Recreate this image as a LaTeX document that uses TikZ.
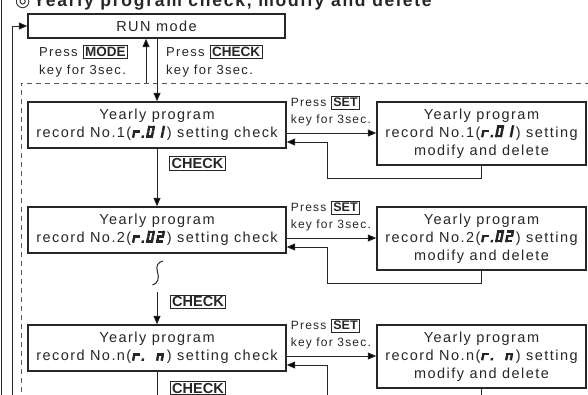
\documentclass[tikz,border=0pt]{standalone}
\usepackage{fontspec}
\usetikzlibrary{arrows.meta,calc}
\newfontfamily\lsf{Liberation Sans}[LetterSpace=10]
\newfontfamily\keyf{Liberation Sans}
\newfontfamily\djv{DejaVu Sans}
\definecolor{ink}{HTML}{262626}
\definecolor{dashc}{HTML}{555555}
% seven-segment pieces (x offset as argument)
\newcommand\sgA[1]{\draw (#1,10.8)--++(7,0);}
\newcommand\sgD[1]{\draw (#1,1.2)--++(7,0);}
\newcommand\sgG[1]{\draw (#1,6.2)--++(7,0);}
\newcommand\sgF[1]{\draw (#1+1.2,12)--++(0,-5.8);}
\newcommand\sgE[1]{\draw (#1+1.2,6.2)--++(0,-6.2);}
\newcommand\sgB[1]{\draw (#1+5.8,12)--++(0,-5.8);}
\newcommand\sgC[1]{\draw (#1+5.8,6.2)--++(0,-6.2);}
\newcommand\sgP[1]{\fill (#1,0) rectangle ++(2.4,2.4);}
\newcommand\segpic[2]{\tikz[baseline=0pt,x=1pt,y=1pt]{\useasboundingbox (-0.5,0) rectangle (#1,12);\begin{scope}[xslant=0.2,line width=2.4pt,ink]#2\end{scope}}}
\newcommand\rOne{\segpic{35}{\sgE{0}\sgG{0}\sgP{9.5}\sgA{14}\sgB{14}\sgC{14}\sgD{14}\sgE{14}\sgF{14}\sgB{24}\sgC{24}}}
\newcommand\rTwo{\segpic{35}{\sgE{0}\sgG{0}\sgP{9.5}\sgA{14}\sgB{14}\sgC{14}\sgD{14}\sgE{14}\sgF{14}\sgA{24}\sgB{24}\sgG{24}\sgE{24}\sgD{24}}}
\newcommand\rEn{\segpic{35}{\sgE{0}\sgG{0}\sgP{9.5}\sgE{24}\sgG{24}\sgC{24}}}
\newcommand\kbox[2]{{\keyf\bfseries\fontsize{#1}{#1}\selectfont\setlength\fboxsep{1.6pt}\setlength\fboxrule{0.9pt}\fbox{#2}}}
\newcommand\bodyf{\lsf\fontsize{14.5}{18}\selectfont}
\newcommand\pressf{\lsf\fontsize{13}{18}\selectfont}
\newcommand\setf{\lsf\fontsize{12}{16.5}\selectfont}
\begin{document}
\begin{tikzpicture}[x=1pt,y=-1pt,line join=miter,
  arr/.style={draw=ink,line width=1pt,-{Triangle[length=8.5pt,width=7pt]}},
  ln/.style={draw=ink,line width=1pt},
  lbox/.style={draw=ink,line width=1.3pt,minimum width=258pt,minimum height=46pt,inner sep=0pt,align=center,font=\bodyf,text=ink},
  rbox/.style={lbox,minimum width=209pt,minimum height=63pt},
  keyn/.style={draw=ink,line width=0.9pt,inner sep=1.8pt,font=\keyf\bfseries\fontsize{14.5}{14.5}\selectfont,text=ink},
  lbl/.style={inner sep=0pt,align=left,anchor=north west,text=ink}]
\useasboundingbox (0,0) rectangle (588,394);
\clip (0,0) rectangle (588,394);
% title
\node[anchor=base west,inner sep=0pt,text=ink,font=\lsf\bfseries\fontsize{17.5}{20}\selectfont] (title) at (15,6.5) {{\djv ◎}\hspace{3pt}Yearly program check, modify and delete};
% frames
\draw[ink,line width=0.8pt] (1,-5) -- (1,400);
\draw[dashc,line width=1pt,dash pattern=on 5pt off 4pt] (21,410) -- (21,83) -- (600,83);
\coordinate (bot) at (0,410);
\coordinate (lp) at (12,410);
\coordinate (dtop) at (146,83);
% nodes
\node[lbox,minimum width=257pt,minimum height=24pt] (run) at (156.5,26) {RUN mode};
\node[lbox] (b1) at (157,125) {Yearly program\\record No.1(\rOne) setting check};
\node[lbox] (b2) at (157,230) {Yearly program\\record No.2(\rTwo) setting check};
\node[lbox] (bn) at (157,348) {Yearly program\\record No.n(\rEn) setting check};
\node[rbox] (r1) at (481.5,133.5) {Yearly program\\record No.1(\rOne) setting\\modify and delete};
\node[rbox] (r2) at (481.5,238.5) {Yearly program\\record No.2(\rTwo) setting\\modify and delete};
\node[rbox] (rn) at (481.5,356.5) {Yearly program\\record No.n(\rEn) setting\\modify and delete};
% RUN mode connections
\draw[arr] (lp) |- (run.west);
\draw[arr] (dtop) -- (dtop |- run.south);
\draw[arr] (run.south -| b1.north) -- (b1.north);
\node[lbl,font=\pressf] (pm) at (39,44.5) {Press \kbox{13.5}{MODE}\\key for 3sec.};
\node[lbl,font=\pressf] (pc) at (166,44.5) {Press \kbox{13.5}{CHECK}\\key for 3sec.};
% vertical chain
\draw[arr] (b1.south) -- (b2.north);
\node[keyn] (k1) at (197.5,163.5) {CHECK};
\coordinate (sq) at (163,261);
\draw[ln] (sq) .. controls (158,262) and (155.5,266) .. (157.5,272) .. controls (159.5,278) and (158,283.5) .. (152.5,285);
\coordinate (nt) at (157,292);
\draw[arr] (nt) -- (bn.north);
\node[keyn] (k2) at (198,302) {CHECK};
\draw[ln] (bn.south) -- (bn.south |- bot);
\node[keyn] (k3) at (198,388) {CHECK};
% row connections
\foreach \b/\r in {b1/r1,b2/r2,bn/rn}{
  \draw[arr] ($(\b.east)+(0,8)$) coordinate (t) -- (t -| \r.west);
  \node[lbl,font=\setf] (s\b) at ($(\b.north east)+(4,-6)$) {Press \kbox{12.5}{SET}\\key for 3sec.};
}
\draw[arr] (r1.south) -- ++(0,13) -| ($(b1.east)+(41,17)$) -- ($(b1.east)+(0,17)$);
\draw[arr] (r2.south) -- ++(0,13) -| ($(b2.east)+(41,17)$) -- ($(b2.east)+(0,17)$);
\draw[ln] (rn.south) -- (rn.south |- bot);
\coordinate (retn) at ($(bn.east)+(41,17)$);
\draw[arr] (retn |- bot) -- (retn) -- ($(bn.east)+(0,17)$);
\end{tikzpicture}
\end{document}
